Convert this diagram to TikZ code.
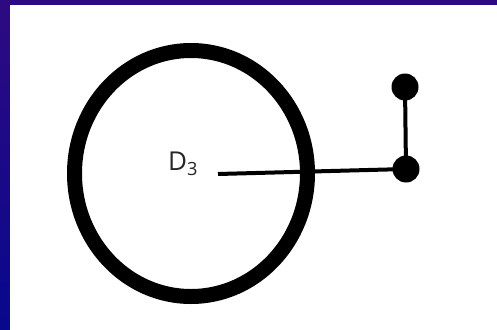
\documentclass[tikz,border=0pt]{standalone}
\usepackage{fontspec}
\setmainfont{Open Sans}
\begin{document}
\begin{tikzpicture}[x=1pt,y=-1pt,
  ring/.style={draw=black,line width=15pt},
  wire/.style={draw=black,line width=4pt},
  dotnode/.style={circle,fill=black,inner sep=0pt,minimum size=27pt},
  lbl/.style={font=\fontsize{26}{30}\selectfont,text=black!85}]
\useasboundingbox (0,0) rectangle (497,329);
\shade[top color={rgb,255:red,46;green,10;blue,130},bottom color={rgb,255:red,8;green,8;blue,140}] (0,0) rectangle (497,329);
\fill[white] (10,5) rectangle (500,332);
\draw[ring] (191,173.5) ellipse [x radius=116.5,y radius=123];
\node[lbl] (d3) at (183,164) {D\textsubscript{3}};
\coordinate (c) at (218,174);
\node[dotnode] (b) at (406,169) {};
\node[dotnode] (t) at (405,87) {};
\draw[wire] (c) -- (b.center);
\draw[wire] (t.center) -- (b.center);
\end{tikzpicture}
\end{document}
